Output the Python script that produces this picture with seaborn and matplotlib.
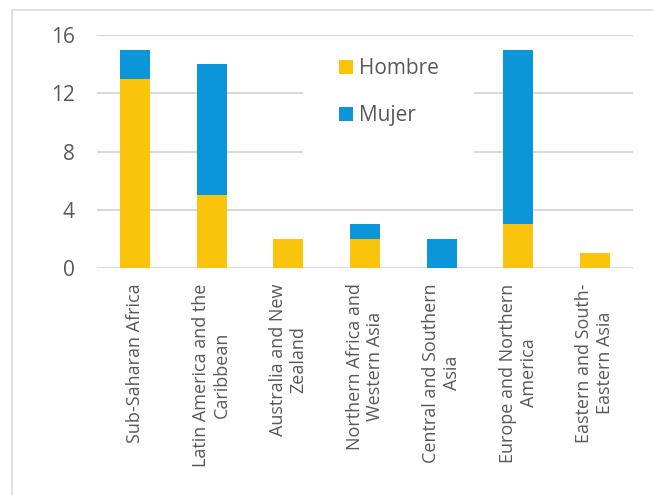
import matplotlib
matplotlib.use("Agg")
import matplotlib.pyplot as plt
from matplotlib.patches import Rectangle
from matplotlib.lines import Line2D
import pandas as pd
import seaborn as sns

# Regions and counts by sex
regions = [
    "Sub-Saharan Africa",
    "Latin America and the\nCaribbean",
    "Australia and New\nZealand",
    "Northern Africa and\nWestern Asia",
    "Central and Southern\nAsia",
    "Europe and Northern\nAmerica",
    "Eastern and South-\nEastern Asia",
]
hombre = [13, 5, 2, 2, 0, 3, 1]
mujer = [2, 9, 0, 1, 2, 12, 0]
y_ticks = [0, 4, 8, 12, 16]

df = pd.DataFrame({"region": regions, "Hombre": hombre, "Mujer": mujer})

sns.set_theme(style="white")
plt.rcParams["font.family"] = ["Open Sans", "DejaVu Sans"]

TEXT = "#595959"
GRID = "#D9D9D9"
C_HOMBRE = "#FAC30C"
C_MUJER = "#0A96D8"

fig = plt.figure(figsize=(6.53, 4.95), dpi=100)
fig.patch.set_facecolor("white")
ax = fig.add_axes([97 / 653, 1 - 268 / 495, 536 / 653, 233 / 495])

# stacked bars: Hombre at the bottom, Mujer stacked above
sns.barplot(data=df, x="region", y="Hombre", color=C_HOMBRE, width=0.39,
            saturation=1, linewidth=0, ax=ax, zorder=2)
sns.barplot(data=df, x="region", y="Mujer", color=C_MUJER, width=0.39,
            saturation=1, linewidth=0, bottom=df["Hombre"].to_numpy(),
            ax=ax, zorder=2)

ax.set_ylim(0, 16)
ax.set_xlim(-0.5, len(regions) - 0.5)
ax.set_yticks(y_ticks)
ax.set_xlabel("")
ax.set_ylabel("")
ax.yaxis.grid(True, color=GRID, linewidth=1.5)
ax.set_axisbelow(True)
for s in ax.spines.values():
    s.set_visible(False)

ax.tick_params(axis="y", length=0, pad=16, labelsize=15, labelcolor=TEXT)
ax.tick_params(axis="x", length=0, pad=11, labelsize=13, labelcolor=TEXT)
ax.set_xticks(range(len(regions)))
ax.set_xticklabels(regions, rotation=90, ha="center", va="top",
                   multialignment="center")

# white backing behind the legend
ax.add_patch(Rectangle(((303 - 97) / 536, (268 - 160) / 233),
                       (474 - 303) / 536, (160 - 40) / 233,
                       transform=ax.transAxes, facecolor="white",
                       edgecolor="none", zorder=1))

handles = [Rectangle((0, 0), 1, 1, facecolor=C_HOMBRE, edgecolor="none"),
           Rectangle((0, 0), 1, 1, facecolor=C_MUJER, edgecolor="none")]
leg = ax.legend(handles, ["Hombre", "Mujer"], loc="upper left",
                bbox_to_anchor=(339 / 653, 1 - 58 / 495),
                bbox_transform=fig.transFigure, frameon=False,
                fontsize=15, labelcolor=TEXT, handlelength=0.68,
                handleheight=0.68, handletextpad=0.3, labelspacing=1.25,
                borderpad=0, borderaxespad=0)
leg.set_zorder(5)

# outer chart border (left and top edges visible)
fig.add_artist(Line2D([12 / 653, 12 / 653], [0, 1 - 10 / 495],
                      transform=fig.transFigure, color=GRID, linewidth=1.2))
fig.add_artist(Line2D([12 / 653, 1], [1 - 10 / 495, 1 - 10 / 495],
                      transform=fig.transFigure, color=GRID, linewidth=1.2))

fig.savefig("out.png", dpi=100, facecolor="white")
